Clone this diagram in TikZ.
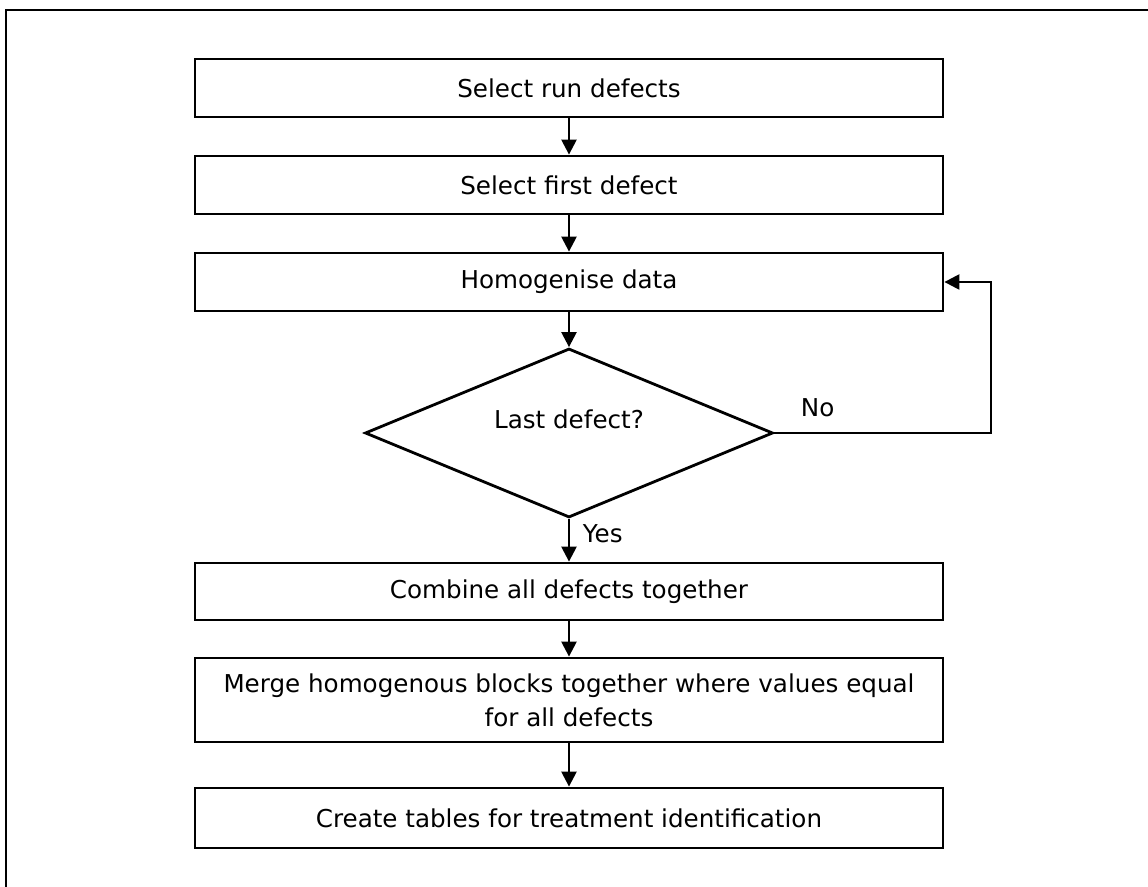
\documentclass[tikz,border=0pt]{standalone}
\usepackage{fontspec}
\setmainfont{DejaVu Sans}
\usetikzlibrary{shapes.geometric, arrows.meta}
\tikzset{box/.style = {draw, line width = 1.4pt, minimum width = 374pt, inner sep = 0,
                       align = center, font = \fontsize{12.3}{17}\selectfont},
         dec/.style = {draw, diamond, line width = 1.4pt, minimum width = 204pt,
                       minimum height = 84.5pt, inner sep = 0, font = \fontsize{12.3}{17}\selectfont},
         arr/.style = {line width = 1.2pt, -{Triangle[length = 7.5pt, width = 7.5pt]}}}

\begin{document}
\begin{tikzpicture}[x = 0.5pt, y = -0.5pt]
    \useasboundingbox (0, 0) rectangle (1148, 887);
    \draw [line width = 1.4pt] (1148, 10) -- (6, 10) -- (6, 887);

    \node [box, minimum height = 29pt] (runsel) at (569, 88) {Select run defects};
    \node [box, minimum height = 29pt] (first) at (569, 185) {Select first defect};
    \node [box, minimum height = 29pt] (homog) at (569, 282) {Homogenise data};
    \node [dec] (last) at (569, 433) {\raisebox{2pt}[0pt][0pt]{Last defect?}};
    \node [box, minimum height = 28.5pt] (comb) at (569, 591.5) {Combine all defects together};
    \node [box, minimum height = 42pt] (merge) at (569, 700) {Merge homogenous blocks together where values equal\\for all defects};
    \node [box, minimum height = 30pt] (tables) at (569, 818) {Create tables for treatment identification};

    \coordinate (loop) at (991, 433);

    \draw [arr] (runsel) -- (first);
    \draw [arr] (first) -- (homog);
    \draw [arr] (homog) -- (last);
    \draw [arr] (last) -- (comb) node [pos = 0.35, right = 3pt, font = \fontsize{12.3}{17}\selectfont] {Yes};
    \draw [arr] (last.east) -- (loop) node [pos = 0.2, above = 4pt, font = \fontsize{12.3}{17}\selectfont] {No} |- (homog.east);
    \draw [arr] (comb) -- (merge);
    \draw [arr] (merge) -- (tables);
  \end{tikzpicture}
\end{document}
